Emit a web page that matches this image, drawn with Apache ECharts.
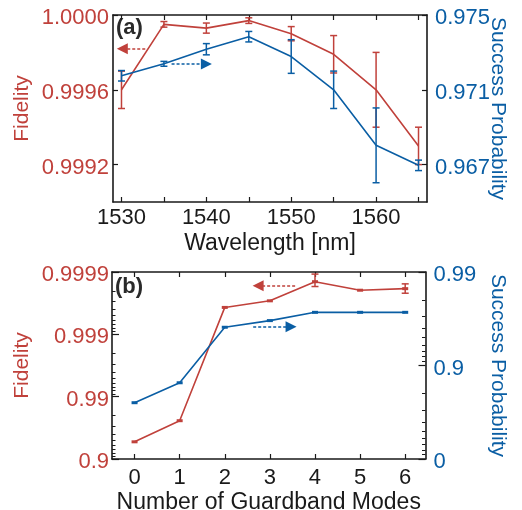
<!DOCTYPE html>
<html><head><meta charset="utf-8">
<script src="https://cdn.jsdelivr.net/npm/echarts@6/dist/echarts.min.js"></script>
<style>html,body{margin:0;padding:0;background:#fff}#c{width:522px;height:510px}</style>
</head><body><div id="c"></div>
<script>
// ---- Panel (a) data ----
const wavelengths = [1530, 1535, 1540, 1545, 1550, 1555, 1560, 1565];
const fidelityA = [0.99960, 0.99995, 0.99993, 0.99997, 0.99990, 0.99979, 0.99960, 0.99930];
const fidelityAErr = [0.00010, 0.000015, 0.000027, 0.000015, 0.000038, 0.00010, 0.00020, 0.00010];
const successA = [0.97175, 0.97239, 0.97317, 0.97384, 0.97278, 0.97100, 0.96803, 0.96696];
const successAErr = [0.00028, 0.00013, 0.00030, 0.00028, 0.00090, 0.00100, 0.00200, 0.00028];
const xTickMarksA = [1530, 1535, 1540, 1545, 1550, 1555, 1560, 1565];
const xTickLabelsA = [1530, 1540, 1550, 1560];
const fidTicksA = [0.9992, 0.9996, 1.0000];
const succTicksA = [0.967, 0.971, 0.975];

// ---- Panel (b) data ----
const guardModes = [0, 1, 2, 3, 4, 5, 6];
const fidelityB = [0.947, 0.9757, 0.99963, 0.99971, 0.999857, 0.999804, 0.999815];
const fidelityBLow = [null, null, null, null, 0.999829, null, 0.999781];
const fidelityBHigh = [null, null, null, null, 0.999892, null, 0.999845];
const successB = [0.750, 0.847, 0.961, 0.9669, 0.973, 0.973, 0.973];
const fidTicksB = [0.9, 0.99, 0.999, 0.9999];
const succTicksB = [0, 0.9, 0.99];

// annotation arrows (data coordinates): [tail, head]
const arrowFidA = [[1532.8, 0.99982], [1530.1, 0.99982]];
const arrowSuccA = [[1535.9, 0.97238], [1540.0, 0.97238]];
const arrowFidB = [[3.56, 0.999834], [2.74, 0.999834]];
const arrowSuccB = [[2.63, 0.9615], [3.47, 0.9615]];

const RED = '#c0413b', BLUE = '#0a5ea4', INK = '#1a1a1a';
const FONT = '"Liberation Sans", Arial, Helvetica, sans-serif';
const nines = v => -Math.log10(1 - v);

function minorNines(fromDec, toDec) {
  const out = [];
  for (let d = fromDec; d < toDec; d++) {
    for (let k = 2; k <= 9; k++) out.push((d + 1) - Math.log10(k));
  }
  return out;
}

function errRender(color, capHalf) {
  return function (params, api) {
    const x = api.value(0), lo = api.value(1), hi = api.value(2);
    const p1 = api.coord([x, lo]), p2 = api.coord([x, hi]);
    const style = { stroke: color, lineWidth: 1.5 };
    return { type: 'group', children: [
      { type: 'line', shape: { x1: p1[0], y1: p1[1], x2: p2[0], y2: p2[1] }, style },
      { type: 'line', shape: { x1: p1[0] - capHalf, y1: p1[1], x2: p1[0] + capHalf, y2: p1[1] }, style },
      { type: 'line', shape: { x1: p2[0] - capHalf, y1: p2[1], x2: p2[0] + capHalf, y2: p2[1] }, style }
    ] };
  };
}

function arrowMark(color, arr) {
  return {
    silent: true, animation: false,
    symbol: ['none', 'triangle'], symbolSize: [11, 11],
    lineStyle: { color, width: 1.5, type: [3, 2] },
    itemStyle: { color },
    label: { show: false },
    emphasis: { disabled: true },
    data: [[{ coord: arr[0] }, { coord: arr[1] }]]
  };
}

const axisLineStyle = { show: true, onZero: false, lineStyle: { color: INK, width: 1.6 } };
const noLine = { show: false, onZero: false };
const tickLab = (color, margin) => ({ color, fontSize: 22, fontFamily: FONT, margin });
// y labels sit a few px below their ticks in the reference
const shifted = (color, margin, fmt, ticks) => ({
  color, fontSize: 22, fontFamily: FONT, margin, customValues: ticks,
  formatter: v => '{s|' + fmt(v) + '}',
  rich: { s: { color, fontSize: 22, fontFamily: FONT, padding: [6, 0, 0, 0] } }
});

const fidAData = wavelengths.map((w, i) => [w, fidelityA[i]]);
const fidAErr = wavelengths.map((w, i) => [w, fidelityA[i] - fidelityAErr[i], fidelityA[i] + fidelityAErr[i]]);
const sucAData = wavelengths.map((w, i) => [w, successA[i]]);
const sucAErr = wavelengths.map((w, i) => [w, successA[i] - successAErr[i], successA[i] + successAErr[i]]);
const fidBData = guardModes.map((m, i) => [m, nines(fidelityB[i])]);
const fidBErr = guardModes.filter((m, i) => fidelityBLow[i] != null)
  .map(m => [m, nines(fidelityBLow[m]), nines(fidelityBHigh[m])]);
const sucBData = guardModes.map((m, i) => [m, nines(successB[i])]);

const xMinA = 1529, xMaxA = 1566, xMinB = -0.5, xMaxB = 6.45;

function nearestLabel(list) {
  return v => { let b = 0; list.forEach((t, i) => { if (Math.abs(nines(t) - v) < Math.abs(nines(list[b]) - v)) b = i; }); return String(list[b]); };
}

const option = {
  animation: false,
  backgroundColor: '#fff',
  grid: [
    { left: 113, top: 15, width: 314, height: 187, containLabel: false, outerBoundsMode: 'none' },
    { left: 112, top: 272, width: 313.5, height: 187, containLabel: false, outerBoundsMode: 'none' }
  ],
  xAxis: [
    { type: 'value', gridIndex: 0, position: 'bottom', min: xMinA, max: xMaxA,
      axisLine: axisLineStyle, splitLine: { show: false },
      axisTick: { inside: true, length: 5, customValues: xTickMarksA, lineStyle: { color: INK, width: 1.2 } },
      axisLabel: Object.assign(tickLab(INK, 5), { customValues: xTickLabelsA, formatter: v => String(Math.round(v)) }),
      name: 'Wavelength [nm]', nameLocation: 'middle', nameGap: 30, nameMoveOverlap: false,
      nameTextStyle: { color: INK, fontSize: 23, fontFamily: FONT } },
    { type: 'value', gridIndex: 0, position: 'top', min: xMinA, max: xMaxA,
      axisLine: axisLineStyle, splitLine: { show: false },
      axisTick: { inside: true, length: 5, customValues: xTickMarksA, lineStyle: { color: INK, width: 1.2 } },
      axisLabel: { show: false } },
    { type: 'value', gridIndex: 1, position: 'bottom', min: xMinB, max: xMaxB,
      axisLine: axisLineStyle, splitLine: { show: false },
      axisTick: { inside: true, length: 5, customValues: guardModes, lineStyle: { color: INK, width: 1.2 } },
      axisLabel: Object.assign(tickLab(INK, 8), { customValues: guardModes, formatter: v => String(Math.round(v)) }),
      name: 'Number of Guardband Modes', nameLocation: 'middle', nameGap: 32, nameMoveOverlap: false,
      nameTextStyle: { color: INK, fontSize: 23, fontFamily: FONT } },
    { type: 'value', gridIndex: 1, position: 'top', min: xMinB, max: xMaxB,
      axisLine: axisLineStyle, splitLine: { show: false },
      axisTick: { inside: true, length: 5, customValues: guardModes, lineStyle: { color: INK, width: 1.2 } },
      axisLabel: { show: false } }
  ],
  yAxis: [
    { type: 'value', gridIndex: 0, position: 'left', min: 0.9990, max: 1.0000,
      axisLine: axisLineStyle, splitLine: { show: false },
      axisTick: { inside: true, length: 5, customValues: fidTicksA, lineStyle: { color: INK, width: 1.2 } },
      axisLabel: shifted(RED, 4, v => v.toFixed(4), fidTicksA),
      name: 'Fidelity', nameLocation: 'middle', nameGap: 80, nameMoveOverlap: false,
      nameTextStyle: { color: RED, fontSize: 21, fontFamily: FONT } },
    { type: 'value', gridIndex: 0, position: 'right', min: 0.965, max: 0.975,
      axisLine: axisLineStyle, splitLine: { show: false },
      axisTick: { inside: true, length: 5, customValues: succTicksA, lineStyle: { color: INK, width: 1.2 } },
      axisLabel: shifted(BLUE, 8, v => v.toFixed(3), succTicksA),
      name: 'Success Probability', nameLocation: 'middle', nameGap: 60, nameRotate: -90, nameMoveOverlap: false,
      nameTextStyle: { color: BLUE, fontSize: 21, fontFamily: FONT } },
    { type: 'value', gridIndex: 1, position: 'left', min: nines(fidTicksB[0]), max: nines(fidTicksB[3]),
      axisLine: axisLineStyle, splitLine: { show: false },
      axisTick: { inside: true, length: 7, customValues: fidTicksB.map(nines), lineStyle: { color: INK, width: 1.2 } },
      axisLabel: shifted(RED, 3, nearestLabel(fidTicksB), fidTicksB.map(nines)),
      name: 'Fidelity', nameLocation: 'middle', nameGap: 79, nameMoveOverlap: false,
      nameTextStyle: { color: RED, fontSize: 21, fontFamily: FONT } },
    { type: 'value', gridIndex: 1, position: 'left', min: nines(fidTicksB[0]), max: nines(fidTicksB[3]),
      axisLine: noLine, splitLine: { show: false },
      axisTick: { inside: true, length: 3.5, customValues: minorNines(1, 4), lineStyle: { color: INK, width: 1 } },
      axisLabel: { show: false } },
    { type: 'value', gridIndex: 1, position: 'right', min: nines(succTicksB[0]), max: nines(succTicksB[2]),
      axisLine: axisLineStyle, splitLine: { show: false },
      axisTick: { inside: true, length: 7, customValues: succTicksB.map(nines), lineStyle: { color: INK, width: 1.2 } },
      axisLabel: shifted(BLUE, 8, nearestLabel(succTicksB), succTicksB.map(nines)),
      name: 'Success Probability', nameLocation: 'middle', nameGap: 62, nameRotate: -90, nameMoveOverlap: false,
      nameTextStyle: { color: BLUE, fontSize: 21, fontFamily: FONT } },
    { type: 'value', gridIndex: 1, position: 'right', min: nines(succTicksB[0]), max: nines(succTicksB[2]),
      axisLine: noLine, splitLine: { show: false },
      axisTick: { inside: true, length: 3.5, customValues: minorNines(0, 2), lineStyle: { color: INK, width: 1 } },
      axisLabel: { show: false } }
  ],
  graphic: [
    { type: 'text', left: 116, top: 17, style: { text: '(a)', fill: '#2a2a2a', font: 'bold 22px ' + FONT } },
    { type: 'text', left: 115, top: 276, style: { text: '(b)', fill: '#2a2a2a', font: 'bold 22px ' + FONT } }
  ],
  series: [
    { type: 'line', xAxisIndex: 0, yAxisIndex: 0, data: fidAData, showSymbol: false, symbol: 'none',
      lineStyle: { color: RED, width: 1.6 }, itemStyle: { color: RED }, z: 3,
      markLine: arrowMark(RED, arrowFidA) },
    { type: 'custom', xAxisIndex: 0, yAxisIndex: 0, data: fidAErr, renderItem: errRender(RED, 3.5), z: 3, silent: true },
    { type: 'line', xAxisIndex: 0, yAxisIndex: 1, data: sucAData, showSymbol: false, symbol: 'none',
      lineStyle: { color: BLUE, width: 1.6 }, itemStyle: { color: BLUE }, z: 4,
      markLine: arrowMark(BLUE, arrowSuccA) },
    { type: 'custom', xAxisIndex: 0, yAxisIndex: 1, data: sucAErr, renderItem: errRender(BLUE, 3.5), z: 4, silent: true },

    { type: 'line', xAxisIndex: 2, yAxisIndex: 2, data: fidBData, symbol: 'rect', symbolSize: [6, 3], showSymbol: true,
      lineStyle: { color: RED, width: 1.6 }, itemStyle: { color: RED }, z: 3,
      markLine: arrowMark(RED, [[arrowFidB[0][0], nines(arrowFidB[0][1])], [arrowFidB[1][0], nines(arrowFidB[1][1])]]) },
    { type: 'custom', xAxisIndex: 2, yAxisIndex: 2, data: fidBErr, renderItem: errRender(RED, 3.5), z: 3, silent: true },
    { type: 'line', xAxisIndex: 2, yAxisIndex: 4, data: sucBData, symbol: 'rect', symbolSize: [6, 3], showSymbol: true,
      lineStyle: { color: BLUE, width: 1.6 }, itemStyle: { color: BLUE }, z: 4,
      markLine: arrowMark(BLUE, [[arrowSuccB[0][0], nines(arrowSuccB[0][1])], [arrowSuccB[1][0], nines(arrowSuccB[1][1])]]) }
  ]
};

const chart = echarts.init(document.getElementById('c'), null, { renderer: 'canvas' });
chart.setOption(option);
</script>
</body></html>
